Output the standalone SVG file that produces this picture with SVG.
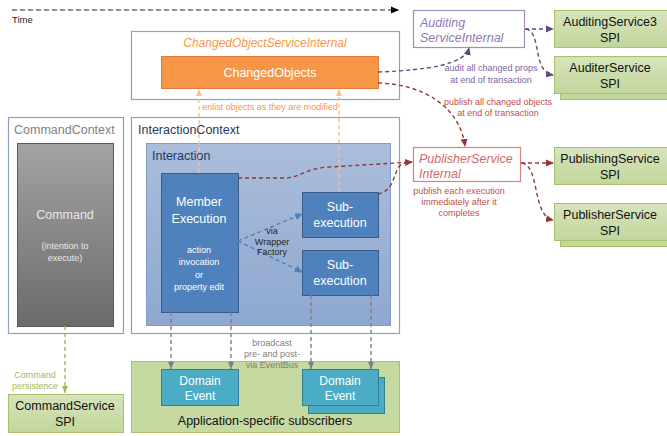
<svg xmlns="http://www.w3.org/2000/svg" width="667" height="436" viewBox="0 0 667 436">
<defs>
<linearGradient id="gCmd" x1="0" y1="0" x2="0" y2="1"><stop offset="0" stop-color="#a3a3a3"/><stop offset="1" stop-color="#6b6b6b"/></linearGradient>
<linearGradient id="gInt" x1="0" y1="0" x2="0" y2="1"><stop offset="0" stop-color="#abbddb"/><stop offset="1" stop-color="#8ea8d0"/></linearGradient>
<linearGradient id="gGreen" x1="0" y1="0" x2="0" y2="1"><stop offset="0" stop-color="#d7e4bd"/><stop offset="1" stop-color="#c2d69b"/></linearGradient>
<marker id="aBlack" markerWidth="8" markerHeight="8" refX="7" refY="4" orient="auto" markerUnits="userSpaceOnUse"><path d="M0,0.5 L8,4 L0,7.5 z" fill="#000"/></marker>
<marker id="aPurple" markerWidth="8" markerHeight="8" refX="7" refY="4" orient="auto" markerUnits="userSpaceOnUse"><path d="M0,0.5 L8,4 L0,7.5 z" fill="#604a7b"/></marker>
<marker id="aRed" markerWidth="8" markerHeight="8" refX="7" refY="4" orient="auto" markerUnits="userSpaceOnUse"><path d="M0,0.5 L8,4 L0,7.5 z" fill="#953735"/></marker>
<marker id="aBlue" markerWidth="8" markerHeight="8" refX="7" refY="4" orient="auto" markerUnits="userSpaceOnUse"><path d="M0,0.5 L8,4 L0,7.5 z" fill="#4f81bd"/></marker>
<marker id="aOrange" markerWidth="8" markerHeight="8" refX="7" refY="4" orient="auto" markerUnits="userSpaceOnUse"><path d="M0,1 L7,4 L0,7 z" fill="#fac090"/></marker>
<marker id="aGray" markerWidth="8" markerHeight="8" refX="7" refY="4" orient="auto" markerUnits="userSpaceOnUse"><path d="M0,1 L7,4 L0,7 z" fill="#7f7f7f"/></marker>
<marker id="aGreen" markerWidth="8" markerHeight="8" refX="7" refY="4" orient="auto" markerUnits="userSpaceOnUse"><path d="M0,1 L7,4 L0,7 z" fill="#9bbb59"/></marker>
</defs>
<style>
text{font-family:"Liberation Sans",Arial,sans-serif;}
.ctx{fill:#fff;stroke:#8ea0bb;stroke-width:1.2;}
.spi{fill:url(#gGreen);stroke:#a7c16f;stroke-width:1;}
.spiT{font-size:12.5px;fill:#111;text-anchor:middle;}
.small{font-size:9px;text-anchor:middle;}
.wt{fill:#fff;text-anchor:middle;}
.de{fill:#4bacc6;stroke:#357d91;stroke-width:1;}
.blue{fill:#4f81bd;stroke:#385d8a;stroke-width:1;}
.c{fill:none;stroke-width:1.4;stroke-dasharray:4,3;}
</style>

<g id="time">
<text x="12" y="23" font-size="9.5" fill="#222">Time</text>
</g>

<g id="changedObjectService">
<rect class="ctx" x="131.5" y="31.5" width="268" height="68"/>
<text x="265" y="47" font-size="12" font-style="italic" fill="#f79646" text-anchor="middle">ChangedObjectServiceInternal</text>
</g>
<g id="changedObjects">
<rect x="161.5" y="56.5" width="217" height="32" fill="#f79646" stroke="#e07b39"/>
<text x="270" y="77" class="wt" font-size="12.5">ChangedObjects</text>
</g>

<g id="auditingServiceInternal">
<rect x="413.5" y="10.5" width="111" height="37" fill="#fff" stroke="#a58cc4" stroke-width="1.2"/>
<text x="420" y="27" font-size="12.5" font-style="italic" fill="#9278b6">Auditing</text>
<text x="420" y="42" font-size="12.5" font-style="italic" fill="#9278b6">ServiceInternal</text>
</g>
<g id="auditingService3">
<rect class="spi" x="554.5" y="10.5" width="113" height="37"/>
<text class="spiT" x="610" y="26">AuditingService3</text>
<text class="spiT" x="610" y="42">SPI</text>
</g>
<g id="auditerService">
<rect class="spi" x="560.5" y="62.5" width="107" height="37"/>
<rect class="spi" x="554.5" y="56.5" width="113" height="37"/>
<text class="spiT" x="610" y="72">AuditerService</text>
<text class="spiT" x="610" y="88">SPI</text>
</g>

<g id="publisherServiceInternal">
<rect x="413.5" y="147.5" width="107" height="34" fill="#fff" stroke="#d9807e" stroke-width="1.2"/>
<text x="419" y="163" font-size="12.5" font-style="italic" fill="#d36a68">PublisherService</text>
<text x="419" y="178" font-size="12.5" font-style="italic" fill="#d36a68">Internal</text>
</g>
<g id="publishingService">
<rect class="spi" x="554.5" y="147.5" width="113" height="37"/>
<text class="spiT" x="610" y="163">PublishingService</text>
<text class="spiT" x="610" y="179">SPI</text>
</g>
<g id="publisherService">
<rect class="spi" x="560.5" y="209.5" width="107" height="37"/>
<rect class="spi" x="554.5" y="203.5" width="113" height="37"/>
<text class="spiT" x="610" y="219">PublisherService</text>
<text class="spiT" x="610" y="235">SPI</text>
</g>

<g id="commandContext">
<rect class="ctx" x="8.5" y="117.5" width="115" height="216"/>
<text x="14" y="134" font-size="12.5" fill="#7f7f7f">CommandContext</text>
</g>
<g id="command">
<rect x="17.5" y="143.5" width="96" height="183" fill="url(#gCmd)" stroke="#595959"/>
<text x="65" y="219" font-size="12.5" fill="#e8e8e8" text-anchor="middle">Command</text>
<text x="65" y="249" font-size="9" fill="#e8e8e8" text-anchor="middle">(intention to</text>
<text x="65" y="261" font-size="9" fill="#e8e8e8" text-anchor="middle">execute)</text>
</g>

<g id="interactionContext">
<rect class="ctx" x="131.5" y="117.5" width="268" height="216"/>
<text x="138" y="134" font-size="12.5" fill="#1f3864">InteractionContext</text>
</g>
<g id="interaction">
<rect x="146.5" y="143.5" width="244" height="182" fill="url(#gInt)" stroke="#7f9dc8"/>
<text x="152" y="160" font-size="12.5" fill="#1f3864">Interaction</text>
</g>
<g id="memberExecution">
<rect class="blue" x="161.5" y="173.5" width="77" height="139"/>
<text x="199" y="206" class="wt" font-size="12.5">Member</text>
<text x="199" y="223" class="wt" font-size="12.5">Execution</text>
<text x="199" y="253" class="wt" font-size="9">action</text>
<text x="199" y="265" class="wt" font-size="9">invocation</text>
<text x="199" y="278" class="wt" font-size="9">or</text>
<text x="199" y="290" class="wt" font-size="9">property  edit</text>
</g>
<g id="subExecution1">
<rect class="blue" x="302.5" y="192.5" width="76" height="45"/>
<text x="340" y="211" class="wt" font-size="12.5">Sub-</text>
<text x="340" y="227" class="wt" font-size="12.5">execution</text>
</g>
<g id="subExecution2">
<rect class="blue" x="302.5" y="250.5" width="76" height="45"/>
<text x="340" y="269" class="wt" font-size="12.5">Sub-</text>
<text x="340" y="285" class="wt" font-size="12.5">execution</text>
</g>

<g id="subscribers">
<rect x="131.5" y="361.5" width="268" height="71" fill="#c6d9a0" stroke="#a7c16f"/>
<text x="265" y="425" font-size="12.5" fill="#111" text-anchor="middle">Application-specific subscribers</text>
</g>
<g id="domainEvent1">
<rect class="de" x="161.5" y="369.5" width="77" height="36"/>
<text x="200" y="385" class="wt" font-size="12">Domain</text>
<text x="200" y="400" class="wt" font-size="12">Event</text>
</g>
<g id="domainEvent2">
<rect class="de" x="308.5" y="377.5" width="76" height="36"/>
<rect class="de" x="302.5" y="369.5" width="76" height="36"/>
<text x="340" y="385" class="wt" font-size="12">Domain</text>
<text x="340" y="400" class="wt" font-size="12">Event</text>
</g>

<g id="commandService">
<rect class="spi" x="8.5" y="394.5" width="115" height="38"/>
<text class="spiT" x="65" y="410">CommandService</text>
<text class="spiT" x="65" y="426">SPI</text>
</g>

<g id="connectors">
<path d="M12,10 H398" fill="none" stroke="#222" stroke-width="1" stroke-dasharray="5,3" marker-end="url(#aBlack)"/>
<path class="c" d="M378,72 C430,70 465,64 469,48" stroke="#604a7b" marker-end="url(#aPurple)"/>
<path class="c" d="M525,29 H553" stroke="#604a7b" marker-end="url(#aPurple)"/>
<path class="c" d="M526,29 C542,32 532,72 553,75" stroke="#604a7b" marker-end="url(#aPurple)"/>
<path class="c" d="M378,83 C425,84 460,108 465,146" stroke="#953735" marker-end="url(#aRed)"/>
<path class="c" d="M521,163 H553" stroke="#953735" marker-end="url(#aRed)"/>
<path class="c" d="M522,163 C540,166 532,216 553,220" stroke="#953735" marker-end="url(#aRed)"/>
<path class="c" d="M238,178 L285,178 C300,178 305,168 330,167 L412,162" stroke="#953735" marker-end="url(#aRed)"/>
<path class="c" d="M378,194 C398,190 392,165 405,163" stroke="#953735"/>
<path class="c" d="M238,241 L302,214" stroke="#4f81bd" stroke-width="1.1" marker-end="url(#aBlue)"/>
<path class="c" d="M238,241 L302,272" stroke="#4f81bd" stroke-width="1.1" marker-end="url(#aBlue)"/>
<path class="c" d="M199,173 V89" stroke="#fac090" stroke-width="1.1" marker-end="url(#aOrange)"/>
<path class="c" d="M339,192 V89" stroke="#fac090" stroke-width="1.1" marker-end="url(#aOrange)"/>
<path class="c" d="M171,312 V369" stroke="#7f7f7f" stroke-width="1.1" marker-end="url(#aGray)"/>
<path class="c" d="M231,312 V369" stroke="#7f7f7f" stroke-width="1.1" marker-end="url(#aGray)"/>
<path class="c" d="M311,295 V369" stroke="#7f7f7f" stroke-width="1.1" marker-end="url(#aGray)"/>
<path class="c" d="M371,295 V369" stroke="#7f7f7f" stroke-width="1.1" marker-end="url(#aGray)"/>
<path class="c" d="M65,326 V393" stroke="#9bbb59" stroke-width="1.1" marker-end="url(#aGreen)"/>
</g>

<g id="labels">
<text class="small" x="270" y="110" fill="#f79646">enlist objects as they are modified</text>
<text class="small" x="491" y="71" fill="#8064a2">audit all changed props</text>
<text class="small" x="491" y="83" fill="#8064a2">at end of transaction</text>
<text class="small" x="498" y="105" fill="#c0504d">publish all changed objects</text>
<text class="small" x="498" y="116" fill="#c0504d">at end of transaction</text>
<text class="small" x="459" y="194" fill="#c0504d">publish each execution</text>
<text class="small" x="459" y="205" fill="#c0504d">immediately after it</text>
<text class="small" x="459" y="216" fill="#c0504d">completes</text>
<text class="small" x="272" y="234" fill="#262626" font-size="8">via</text>
<text class="small" x="272" y="245" fill="#262626" font-size="8">Wrapper</text>
<text class="small" x="272" y="255" fill="#262626" font-size="8">Factory</text>
<text class="small" x="272" y="346" fill="#7f7f7f">broadcast</text>
<text class="small" x="272" y="357" fill="#7f7f7f">pre- and post-</text>
<text class="small" x="272" y="368" fill="#7f7f7f">via EventBus</text>
<text class="small" x="35" y="378" fill="#9bbb59">Command</text>
<text class="small" x="35" y="389" fill="#9bbb59">persistence</text>
</g>
</svg>
